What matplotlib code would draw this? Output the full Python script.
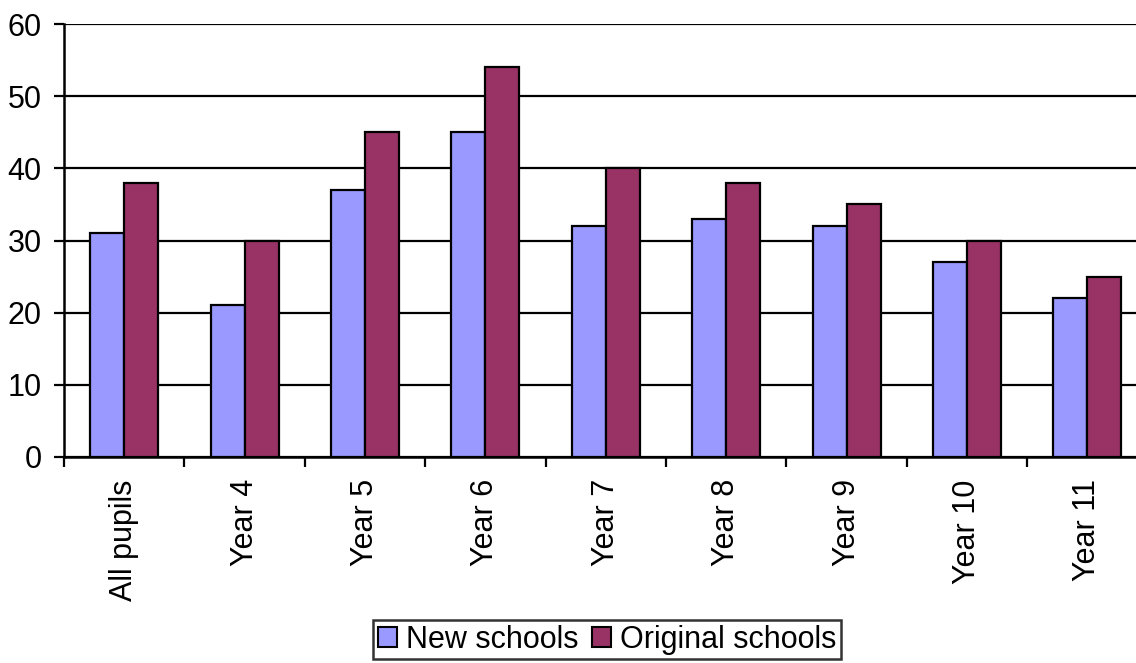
import matplotlib
matplotlib.use("Agg")
import matplotlib.pyplot as plt
import numpy as np
from matplotlib.patches import Patch

categories = ["All pupils", "Year 4", "Year 5", "Year 6", "Year 7", "Year 8", "Year 9", "Year 10", "Year 11"]
new_schools = [31, 21, 37, 45, 32, 33, 32, 27, 22]
original_schools = [38, 30, 45, 54, 40, 38, 35, 30, 25]
yticks = [0, 10, 20, 30, 40, 50, 60]

plt.rcParams['font.family'] = ['Liberation Sans', 'DejaVu Sans']

fig = plt.figure(figsize=(11.36, 6.63), dpi=100)
ax = fig.add_axes([64/1136, 1-457/663, 1-64/1136, (457-24)/663])

x = np.arange(len(categories))
w = 0.283
c_blue = "#9999FF"
c_red = "#993366"
ax.bar(x - w/2, new_schools, width=w, color=c_blue, edgecolor="black", linewidth=1.6, zorder=3)
ax.bar(x + w/2, original_schools, width=w, color=c_red, edgecolor="black", linewidth=1.6, zorder=3)

ax.set_yticks(yticks)
ax.set_yticklabels([str(v) for v in yticks], fontsize=22)
ax.yaxis.grid(True, color="black", linewidth=1.6, zorder=0)
ax.set_axisbelow(True)

ax.set_xticks(x)
ax.set_xticklabels(categories, rotation=90, fontsize=22)
ax.set_xticks(np.arange(-0.5, len(categories), 1.0), minor=True)
ax.tick_params(axis='x', which='major', length=0, pad=16)
ax.tick_params(axis='x', which='minor', length=7, width=1.6, direction='out', color='black')
ax.tick_params(axis='y', length=7, width=1.6, direction='out', pad=9, color='black')

ax.set_ylim(0, 60)
ax.set_xlim(-0.5, -0.5 + 1072/120.4)

for s in ["top", "right"]:
    ax.spines[s].set_visible(False)
for s in ["left", "bottom"]:
    ax.spines[s].set_linewidth(1.8)
    ax.spines[s].set_color("black")

handles = [Patch(facecolor=c_blue, edgecolor="black", linewidth=1.5, label="New schools"),
           Patch(facecolor=c_red, edgecolor="black", linewidth=1.5, label="Original schools")]
leg = fig.legend(handles=handles, loc="upper left", bbox_to_anchor=(373/1136, 1-620/663),
                 ncol=2, fontsize=22, frameon=True, fancybox=False, edgecolor="black",
                 handlelength=0.62, handleheight=0.62, handletextpad=0.3, columnspacing=0.45,
                 borderpad=0.15, borderaxespad=0)
leg.get_frame().set_linewidth(1.8)

fig.savefig("out.png", dpi=100)
